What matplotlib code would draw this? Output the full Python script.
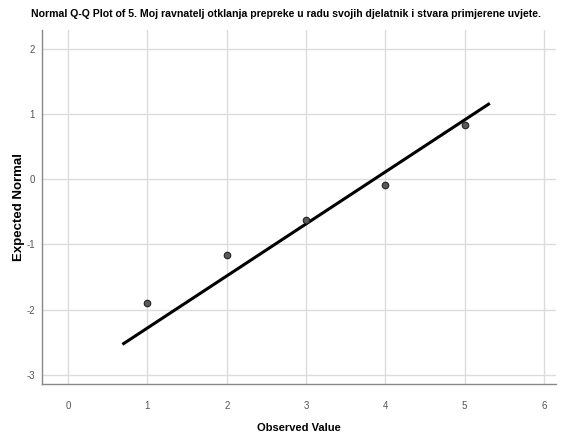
import matplotlib
matplotlib.use("Agg")
import matplotlib.pyplot as plt

# observed values and their expected normal scores
obs = [1, 2, 3, 4, 5]
expected = [-1.90, -1.16, -0.63, -0.09, 0.83]

# reference normal line
line_x = [0.70, 5.30]
line_y = [-2.52, 1.15]

xticks = [0, 1, 2, 3, 4, 5, 6]
yticks = [-3, -2, -1, 0, 1, 2]

plt.rcParams['font.family'] = ['Liberation Sans', 'DejaVu Sans']
plt.rcParams['axes.unicode_minus'] = False

fig = plt.figure(figsize=(5.66, 4.34), dpi=100)
ax = fig.add_axes([0.0742, 0.1152, 0.908, 0.816])

ax.grid(True, color='#dcdcdc', linewidth=1.0, zorder=0)
ax.plot(line_x, line_y, color='black', linewidth=2.2, zorder=3)
ax.scatter(obs, expected, s=22, facecolor='#5a5a5a', edgecolor='#222222',
           linewidth=0.8, zorder=4)

ax.set_xlim(-0.33, 6.15)
ax.set_ylim(-3.14, 2.29)
ax.set_xticks(xticks)
ax.set_yticks(yticks)
ax.tick_params(length=0, labelsize=7, labelcolor='#555555')
ax.tick_params(axis='x', pad=12)
ax.tick_params(axis='y', pad=5)

for s in ['top', 'right']:
    ax.spines[s].set_visible(False)
for s in ['left', 'bottom']:
    ax.spines[s].set_color('#888888')
    ax.spines[s].set_linewidth(1.0)

title = ax.set_title('Normal Q-Q Plot of 5. Moj ravnatelj otklanja prepreke u radu svojih djelatnik i stvara primjerene uvjete.',
                     fontsize=8.5, fontweight='bold', pad=9, x=0.475)
# shrink the title so it spans roughly the same width as the reference
r = fig.canvas.get_renderer()
w = title.get_window_extent(r).width
title.set_fontsize(8.5 * 508 / w)

ax.set_xlabel('Observed Value', fontsize=8, fontweight='bold', labelpad=9)
ax.set_ylabel('Expected Normal', fontsize=9.5, fontweight='bold')
ax.yaxis.set_label_coords(-0.033, 0.5)

fig.savefig('out.png', dpi=100)
